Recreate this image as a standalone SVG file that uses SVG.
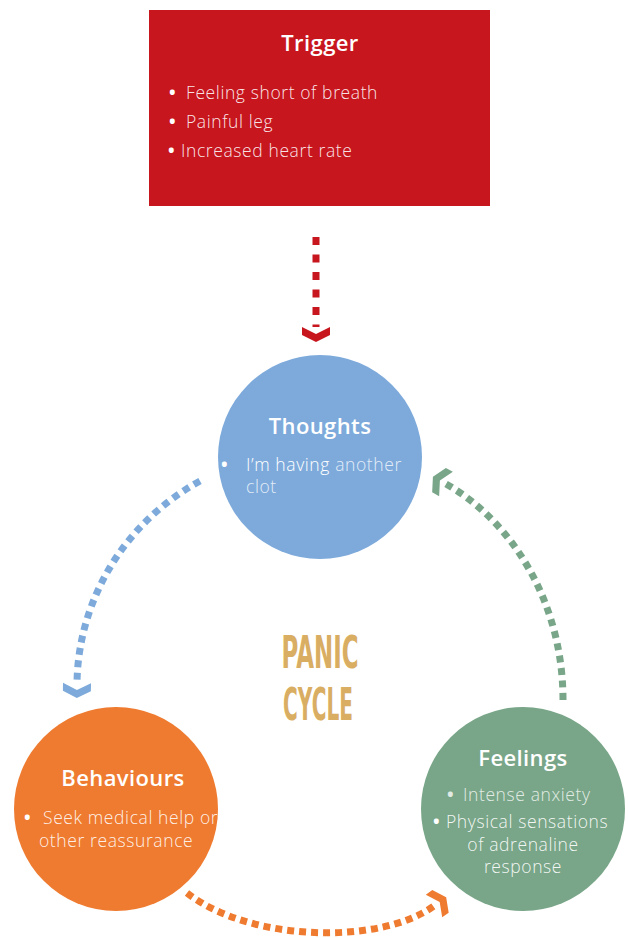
<svg xmlns="http://www.w3.org/2000/svg" width="628" height="938" viewBox="0 0 628 938">
  <style>
    .title { font-family: "Open Sans", "Liberation Sans", sans-serif; font-weight: 600; fill: #ffffff; text-anchor: middle; letter-spacing: 0.4px; }
    .body { font-family: "Open Sans", "Liberation Sans", sans-serif; font-weight: 300; font-size: 17.5px; letter-spacing: 0.6px; fill: #ffffff; }
    .bul { font-family: "Open Sans", "Liberation Sans", sans-serif; font-weight: 700; font-size: 17.5px; fill: #ffffff; }
    .dim { fill-opacity: 0.8; }
    .conn { fill: none; stroke-width: 7; }
    .panic { font-family: "DejaVu Sans", "Liberation Sans", sans-serif; font-weight: 700; font-size: 45px; fill: #D9AE63; text-anchor: middle; }
  </style>
  <defs>
    <marker id="ah-red" markerUnits="userSpaceOnUse" orient="auto" markerWidth="16" markerHeight="30" refX="0" refY="14" overflow="visible">
      <polygon points="0,0 7,14 0,28 8,28 15,14 8,0" fill="#C8161F"/>
    </marker>
    <marker id="ah-blue" markerUnits="userSpaceOnUse" orient="auto" markerWidth="16" markerHeight="30" refX="0" refY="14" overflow="visible">
      <polygon points="0,0 7,14 0,28 8,28 15,14 8,0" fill="#7DAADB"/>
    </marker>
    <marker id="ah-orange" markerUnits="userSpaceOnUse" orient="auto" markerWidth="16" markerHeight="30" refX="0" refY="14" overflow="visible">
      <polygon points="0,0 7,14 0,28 8,28 15,14 8,0" fill="#EF7B30"/>
    </marker>
    <marker id="ah-green" markerUnits="userSpaceOnUse" orient="auto" markerWidth="16" markerHeight="30" refX="0" refY="14" overflow="visible">
      <polygon points="0,0 7,14 0,28 8,28 15,14 8,0" fill="#79A688"/>
    </marker>
    <clipPath id="clip-beh">
      <circle cx="116" cy="809" r="102"/>
    </clipPath>
  </defs>

  <rect width="628" height="938" fill="#ffffff"/>

  <g id="connectors">
    <path class="conn" d="M316,237 L316,327" stroke="#C8161F" stroke-dasharray="8 9.5" marker-end="url(#ah-red)"/>
    <path class="conn" d="M200,481 C120,525 78,605 77,683" stroke="#7DAADB" stroke-dasharray="7 5.5" marker-end="url(#ah-blue)"/>
    <path class="conn" d="M187,893 C250,942 380,945 434,906" stroke="#EF7B30" stroke-dasharray="7 5" marker-end="url(#ah-orange)"/>
    <path class="conn" d="M563,700 C563,600 510,520 446,484" stroke="#79A688" stroke-dasharray="7 5.5" marker-end="url(#ah-green)"/>
  </g>

  <g id="trigger">
    <rect x="149" y="10" width="341" height="196" fill="#C8161F"/>
    <text class="title" x="320" y="51" font-size="22">Trigger</text>
    <text class="bul" x="169" y="99">•</text>
    <text class="body" x="186" y="99" fill-opacity="0.9">Feeling short of breath</text>
    <text class="bul" x="169" y="128">•</text>
    <text class="body" x="186" y="128" fill-opacity="0.9">Painful leg</text>
    <text class="bul" x="168" y="157">•</text>
    <text class="body" x="181" y="157" fill-opacity="0.9">Increased heart rate</text>
  </g>

  <g id="thoughts">
    <circle cx="320" cy="457" r="102" fill="#7DAADB"/>
    <text class="title" x="320" y="434" font-size="22">Thoughts</text>
    <text class="bul" x="221" y="471">•</text>
    <text class="body" x="246" y="471">I’m having <tspan class="dim">another</tspan></text>
    <text class="body dim" x="246" y="493">clot</text>
  </g>

  <g id="behaviours">
    <circle cx="116" cy="809" r="102" fill="#EF7B30"/>
    <text class="title" x="123" y="786" font-size="22">Behaviours</text>
    <text class="bul" x="24" y="824">•</text>
    <g clip-path="url(#clip-beh)">
      <text class="body" x="43" y="824" fill-opacity="0.9">Seek medical help or</text>
    </g>
    <text class="body" x="39" y="847" fill-opacity="0.9">other reassurance</text>
  </g>

  <g id="feelings">
    <circle cx="523" cy="809" r="102" fill="#79A688"/>
    <text class="title" x="523" y="766" font-size="22">Feelings</text>
    <text class="bul dim" x="447" y="801">•</text>
    <text class="body dim" x="463" y="801">Intense anxiety</text>
    <text class="bul" x="433" y="828">•</text>
    <text class="body" x="446" y="828" fill-opacity="0.92">Physical sensations</text>
    <text class="body" x="523" y="851" text-anchor="middle" fill-opacity="0.92">of adrenaline</text>
    <text class="body" x="523" y="873" text-anchor="middle" fill-opacity="0.92">response</text>
  </g>

  <g id="panic-cycle">
    <text class="panic" x="320" y="668" textLength="77" lengthAdjust="spacingAndGlyphs">PANIC</text>
    <text class="panic" x="318" y="720" textLength="70" lengthAdjust="spacingAndGlyphs">CYCLE</text>
  </g>
</svg>
